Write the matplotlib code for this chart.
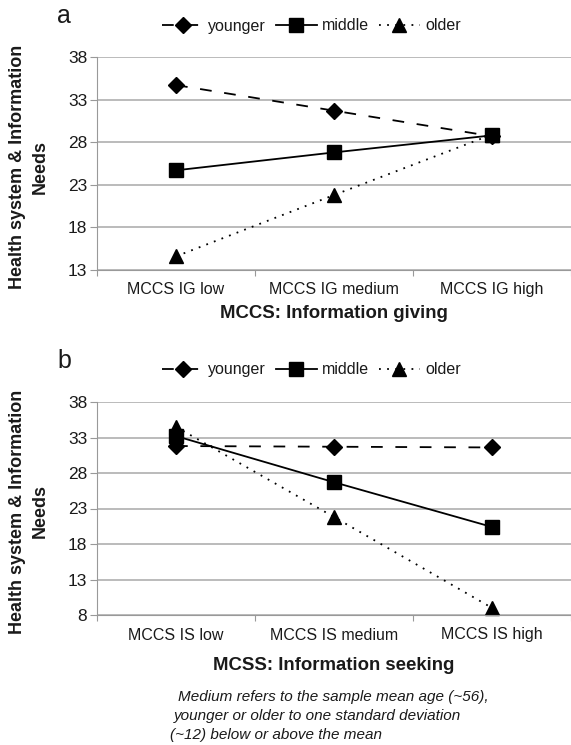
import matplotlib
matplotlib.use("Agg")
import matplotlib.pyplot as plt

plt.rcParams['font.family'] = ['Liberation Sans', 'DejaVu Sans']
plt.rcParams['text.color'] = '#1a1a1a'
plt.rcParams['xtick.labelcolor'] = '#1a1a1a'
plt.rcParams['ytick.labelcolor'] = '#1a1a1a'

groups = ["younger", "middle", "older"]
cats_a = ["MCCS IG low", "MCCS IG medium", "MCCS IG high"]
cats_b = ["MCCS IS low", "MCCS IS medium", "MCCS IS high"]
vals_a = {"younger": [34.7, 31.7, 28.7], "middle": [24.7, 26.8, 28.8], "older": [14.6, 21.8, 28.9]}
vals_b = {"younger": [31.8, 31.7, 31.6], "middle": [33.2, 26.7, 20.4], "older": [34.5, 21.8, 9.0]}
yticks_a = [13, 18, 23, 28, 33, 38]
yticks_b = [8, 13, 18, 23, 28, 33, 38]

styles = {
    "younger": dict(linestyle=(0, (6.5, 7)), marker="D", markersize=8.5),
    "middle": dict(linestyle="-", marker="s", markersize=9.5),
    "older": dict(linestyle=(0, (1, 3.5)), marker="^", markersize=9.5),
}

W, H = 571, 745
fig = plt.figure(figsize=(W / 100, H / 100), dpi=100)


def fy(px):
    return 1 - px / H


def panel(top_px, bot_px, cats, vals, yticks, letter, letter_y, xlabel, xlabel_y, legend_y):
    left = 97 / W
    ax = fig.add_axes([left, fy(bot_px), 1 - left, (bot_px - top_px) / H])
    xs = [0.5, 1.5, 2.5]
    handles = []
    for g in groups:
        h, = ax.plot(xs, vals[g], color="black", lw=1.3, markerfacecolor="black",
                     markeredgecolor="black", label=g, clip_on=False, **styles[g])
        handles.append(h)
    ax.set_xlim(0, 3)
    ax.set_ylim(yticks[0], yticks[-1])
    ax.set_yticks(yticks)
    ax.set_yticklabels([str(t) for t in yticks], fontsize=12.5)
    ax.set_xticks([0, 1, 2, 3])
    ax.set_xticklabels([])
    ax.set_xticks(xs, minor=True)
    ax.set_xticklabels(cats, minor=True, fontsize=11.5)
    ax.tick_params(axis="x", which="minor", length=0, pad=9)
    ax.tick_params(axis="x", which="major", length=4, color="#999999", direction="out")
    ax.tick_params(axis="y", length=5, color="#999999", pad=2)
    ax.grid(axis="y", color="#a8a8a8", lw=1.1)
    ax.set_axisbelow(True)
    for s in ["top", "right"]:
        ax.spines[s].set_visible(False)
    for s in ["left", "bottom"]:
        ax.spines[s].set_color("#999999")
    fig.text(0.585, fy(xlabel_y), xlabel, fontsize=13.4, fontweight="bold",
             ha="center", va="center")
    fig.text(18 / W, fy((top_px + bot_px) / 2 + 3), "Health system & Information",
             fontsize=13, fontweight="bold", rotation=90, ha="center", va="center")
    fig.text(40 / W, fy((top_px + bot_px) / 2 + 3), "Needs",
             fontsize=13, fontweight="bold", rotation=90, ha="center", va="center")
    fig.legend(handles=handles, loc="center", bbox_to_anchor=(0.545, fy(legend_y)), ncol=3,
               frameon=False, fontsize=11.5, handlelength=2.6, columnspacing=0.6,
               handletextpad=0.3)
    fig.text(57 / W, fy(letter_y), letter, fontsize=18, ha="left", va="center")
    return ax


panel(57, 270, cats_a, vals_a, yticks_a, "a", 16, "MCCS: Information giving", 313, 26)
panel(402, 615, cats_b, vals_b, yticks_b, "b", 361, "MCSS: Information seeking", 666, 370)

note_lines = ["Medium refers to the sample mean age (~56),",
              "younger or older to one standard deviation",
              "(~12) below or above the mean"]
note_x = [178, 174, 170]
note_y = [697, 716, 735]
for t, x, y in zip(note_lines, note_x, note_y):
    fig.text(x / W, fy(y), t, fontsize=11, style="italic", ha="left", va="center")

fig.savefig("out.png", dpi=100)
